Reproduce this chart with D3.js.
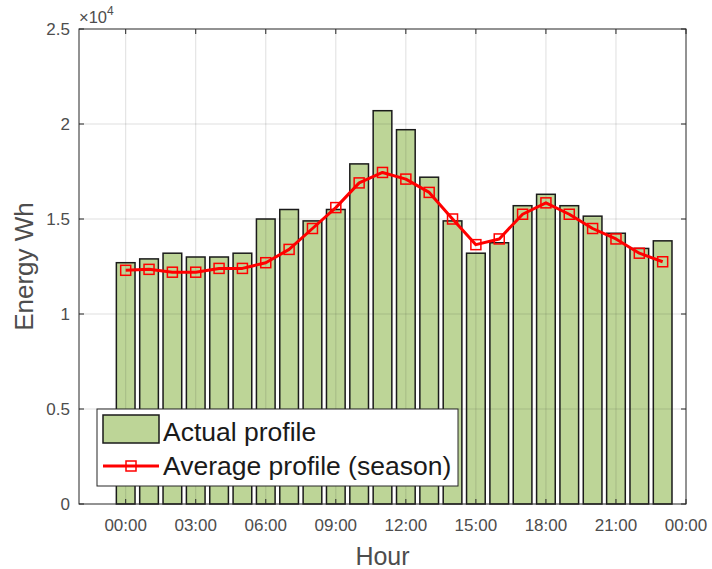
<html>
<head>
<meta charset="utf-8" />
<script src="https://d3js.org/d3.v7.min.js"></script>
<style>
    body { margin: 0; background: #fff; }
    text { font-family: "Liberation Sans", Arial, Helvetica, sans-serif; }
</style>
</head>
<body>
<svg id="chart" width="712" height="569"></svg>
<script>
    const hours = d3.range(0, 24)
    const actual = [12700, 12900, 13200, 13000, 13000, 13200, 15000, 15500, 14900, 15500, 17900, 20700,
        19700, 17200, 14900, 13200, 13750, 15700, 16300, 15700, 15150, 14250, 13450, 13850]
    const average = [12300, 12350, 12200, 12200, 12400, 12400, 12700, 13400, 14500, 15600, 16900, 17450,
        17100, 16400, 15000, 13650, 13950, 15250, 15850, 15250, 14500, 13950, 13200, 12750]
    const xTicks = [0, 3, 6, 9, 12, 15, 18, 21, 24]
    const yTicks = [0, 5000, 10000, 15000, 20000, 25000]
    const yTickLabels = ["0", "0.5", "1", "1.5", "2", "2.5"]

    const svg = d3.select("#chart")
    const plot = { left: 79, right: 686, top: 29, bottom: 504 }
    const axisColor = "#262626"
    const labelColor = "#4d4d4d"

    const x = d3.scaleLinear().domain([-2, 24]).range([plot.left, plot.right])
    const y = d3.scaleLinear().domain([0, 25000]).range([plot.bottom, plot.top])
    const barW = (x(1) - x(0)) * 0.8

    // bars
    svg.append("g").selectAll("rect").data(hours)
        .join("rect")
        .attr("x", d => x(d) - barW / 2)
        .attr("y", (d, i) => y(actual[i]))
        .attr("width", barW)
        .attr("height", (d, i) => y(0) - y(actual[i]))
        .attr("fill", "#bdd597")
        .attr("stroke", "#1a1a1a")
        .attr("stroke-width", 1.5)

    // grid (drawn over the bars, faint)
    const grid = svg.append("g").attr("stroke", axisColor).attr("stroke-opacity", 0.15).attr("stroke-width", 1)
    grid.selectAll("line.gx").data(xTicks.filter(d => d < 24)).join("line").attr("class", "gx")
        .attr("x1", d => x(d)).attr("x2", d => x(d))
        .attr("y1", plot.top).attr("y2", plot.bottom)
    grid.selectAll("line.gy").data(yTicks.slice(1, -1)).join("line").attr("class", "gy")
        .attr("x1", plot.left).attr("x2", plot.right)
        .attr("y1", d => y(d)).attr("y2", d => y(d))

    // average line
    const line = d3.line().x((d, i) => x(hours[i])).y(d => y(d))
    svg.append("path").datum(average)
        .attr("d", line)
        .attr("fill", "none")
        .attr("stroke", "#ff0000")
        .attr("stroke-width", 3)
        .attr("stroke-linejoin", "round")
    svg.append("g").selectAll("rect").data(average)
        .join("rect")
        .attr("x", (d, i) => x(hours[i]) - 5)
        .attr("y", d => y(d) - 5)
        .attr("width", 10).attr("height", 10)
        .attr("fill", "none")
        .attr("stroke", "#ff0000")
        .attr("stroke-width", 1.5)

    // axes box + ticks
    const ax = svg.append("g").attr("stroke", axisColor).attr("stroke-width", 1)
    ax.append("rect")
        .attr("x", plot.left).attr("y", plot.top)
        .attr("width", plot.right - plot.left).attr("height", plot.bottom - plot.top)
        .attr("fill", "none")
    xTicks.forEach(t => {
        ax.append("line").attr("x1", x(t)).attr("x2", x(t)).attr("y1", plot.bottom).attr("y2", plot.bottom - 5)
        ax.append("line").attr("x1", x(t)).attr("x2", x(t)).attr("y1", plot.top).attr("y2", plot.top + 5)
    })
    yTicks.forEach(t => {
        ax.append("line").attr("x1", plot.left).attr("x2", plot.left + 5).attr("y1", y(t)).attr("y2", y(t))
        ax.append("line").attr("x1", plot.right).attr("x2", plot.right - 5).attr("y1", y(t)).attr("y2", y(t))
    })

    svg.append("g").selectAll("text").data(xTicks).join("text")
        .attr("x", d => x(d)).attr("y", 531)
        .attr("text-anchor", "middle")
        .attr("font-size", 17).attr("fill", labelColor)
        .text(d => String(d % 24).padStart(2, "0") + ":00")

    svg.append("g").selectAll("text").data(yTicks).join("text")
        .attr("x", 70).attr("y", d => y(d) + 6)
        .attr("text-anchor", "end")
        .attr("font-size", 17).attr("fill", labelColor)
        .text((d, i) => yTickLabels[i])

    const expo = svg.append("text").attr("x", 79).attr("y", 23)
        .attr("font-size", 16.5).attr("fill", labelColor)
    expo.append("tspan").text("×10")
    expo.append("tspan").attr("font-size", 12).attr("dy", -8).text("4")

    svg.append("text")
        .attr("x", (plot.left + plot.right) / 2).attr("y", 565)
        .attr("text-anchor", "middle")
        .attr("font-size", 25).attr("fill", labelColor)
        .text("Hour")

    svg.append("text")
        .attr("transform", `translate(33, ${(plot.top + plot.bottom) / 2}) rotate(-90)`)
        .attr("text-anchor", "middle")
        .attr("font-size", 26).attr("fill", labelColor)
        .text("Energy Wh")

    // legend
    const lg = svg.append("g")
    lg.append("rect").attr("x", 97).attr("y", 409).attr("width", 361).attr("height", 77)
        .attr("fill", "#fff").attr("stroke", axisColor).attr("stroke-width", 1)
    lg.append("rect").attr("x", 103).attr("y", 415).attr("width", 56).attr("height", 28)
        .attr("fill", "#bdd597").attr("stroke", "#1a1a1a").attr("stroke-width", 1.5)
    lg.append("line").attr("x1", 103).attr("x2", 159).attr("y1", 466).attr("y2", 466)
        .attr("stroke", "#ff0000").attr("stroke-width", 3)
    lg.append("rect").attr("x", 126).attr("y", 461).attr("width", 10).attr("height", 10)
        .attr("fill", "none").attr("stroke", "#ff0000").attr("stroke-width", 1.5)
    lg.append("text").attr("x", 163).attr("y", 441).attr("font-size", 26.5).attr("fill", "#1a1a1a")
        .text("Actual profile")
    lg.append("text").attr("x", 163).attr("y", 475).attr("font-size", 26.5).attr("fill", "#1a1a1a")
        .text("Average profile (season)")
</script>
</body>
</html>
